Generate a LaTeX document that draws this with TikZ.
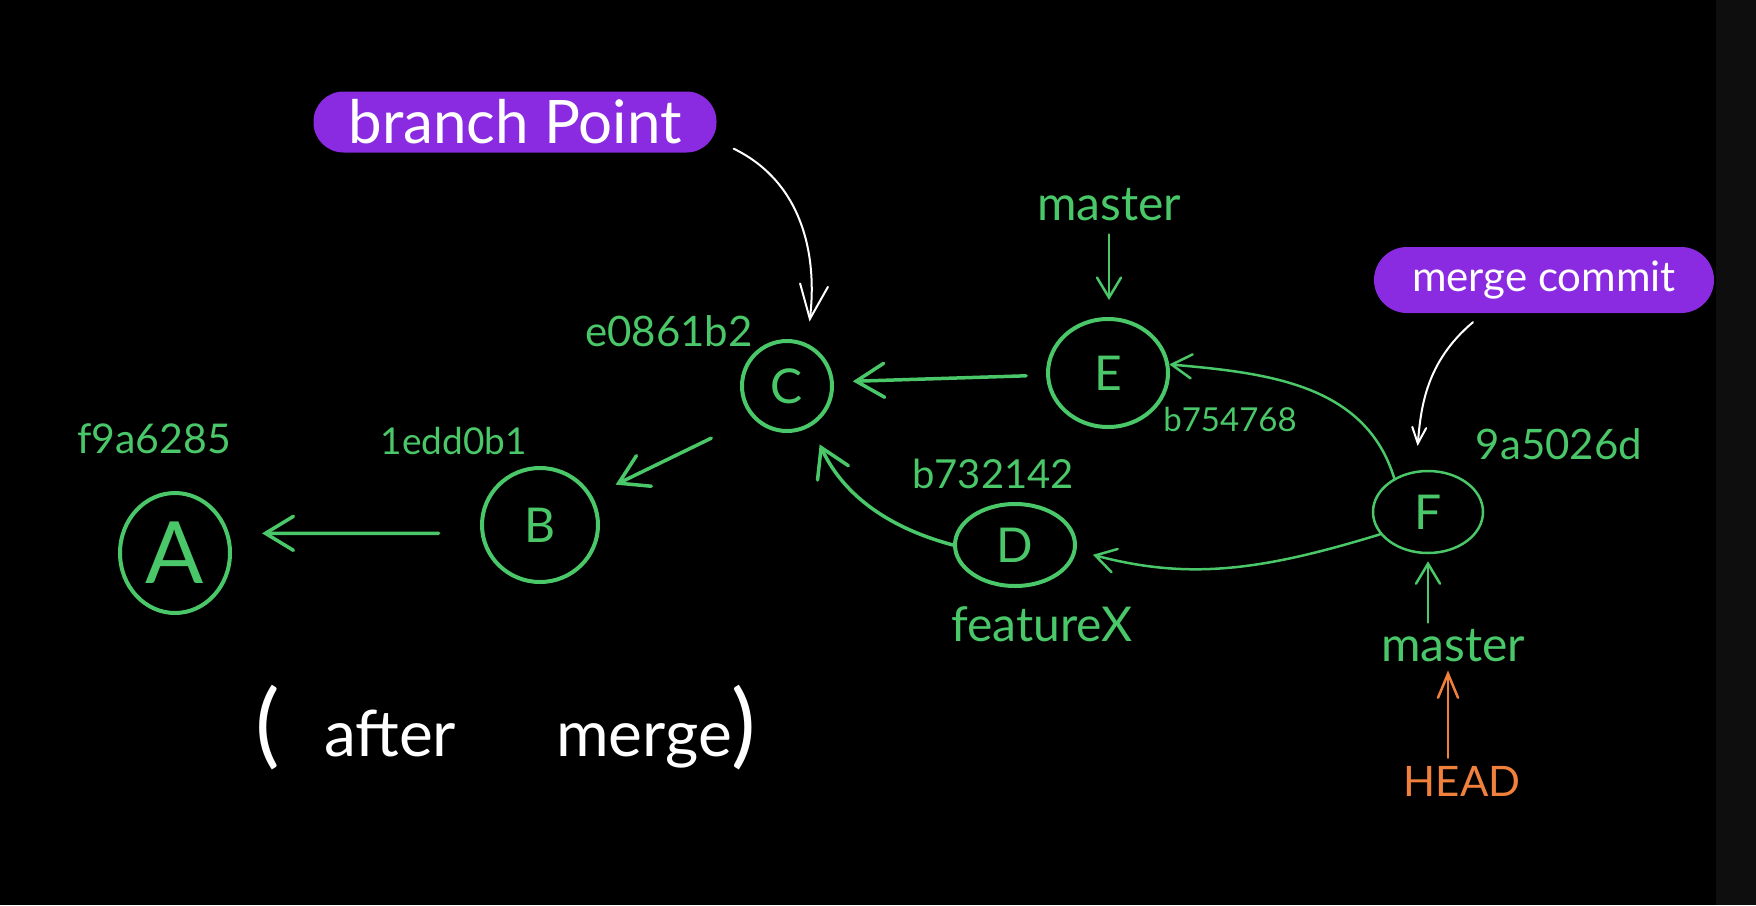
\documentclass[tikz,border=0pt]{standalone}
\usepackage{fontspec}
\setmainfont{Lato}
\usetikzlibrary{shapes.geometric,arrows.meta}
\definecolor{gr}{RGB}{74,199,104}
\definecolor{pur}{RGB}{138,43,226}
\definecolor{org}{RGB}{240,128,60}
\definecolor{stripc}{RGB}{14,14,14}
\begin{document}
\begin{tikzpicture}[x=1pt,y=-1pt,
  commit/.style={ellipse, draw=gr, line width=4pt, inner sep=0pt, text=gr, font=\fontsize{48}{48}\selectfont},
  thincommit/.style={commit, line width=2.5pt},
  hash/.style={text=gr, inner sep=0pt, font=\fontsize{#1}{#1}\selectfont},
  lbl/.style={text=gr, inner sep=0pt, font=\fontsize{#1}{#1}\selectfont},
  pill/.style={fill=pur, draw=none, text=white, inner sep=0pt},
  arr/.style={draw=gr, line width=3.5pt, line cap=round, -{Straight Barb[length=28pt,width=34pt,line cap=round]}},
  tarr/.style={draw=gr, line width=2.5pt, line cap=round, -{Straight Barb[length=20pt,width=24pt,line cap=round]}},
  warr/.style={draw=white, line width=2pt, line cap=round, -{Straight Barb[length=34pt,width=28pt,line cap=round]}},
  swarr/.style={draw=white, line width=2pt, line cap=round, -{Straight Barb[length=16pt,width=14pt,line cap=round]}},
  oarr/.style={draw=org, line width=2.5pt, line cap=round, -{Straight Barb[length=24pt,width=20pt,line cap=round]}},
]
\fill[black] (0,0) rectangle (1756,905);
\fill[stripc] (1716,0) rectangle (1756,905);
\useasboundingbox (0,0) rectangle (1756,905);

% commits
\node[commit, minimum width=110pt, minimum height=120pt, font=\fontsize{86}{86}\selectfont] (A) at (175,553) {A};
\node[commit, minimum width=116pt, minimum height=114pt] (B) at (540,525) {B};
\node[commit, minimum width=90pt, minimum height=90pt] (C) at (787,386) {C};
\node[commit, minimum width=120pt, minimum height=108pt] (E) at (1108,373) {E};
\node[commit, minimum width=120pt, minimum height=82pt] (D) at (1015,545) {D};
\node[thincommit, minimum width=110pt, minimum height=82pt] (F) at (1428,512) {F};

% hashes
\node[hash=41] (hA) at (154,439) {f9a6285};
\node[hash=37] (hB) at (454,441) {1edd0b1};
\node[hash=42] (hC) at (669,331) {e0861b2};
\node[hash=40] (hD) at (993,474) {b732142};
\node[hash=33] (hE) at (1230,419) {b754768};
\node[hash=42] (hF) at (1559,444) {9a5026d};

% branch labels
\node[lbl=48] (fx) at (1042,624) {featureX};
\node[lbl=48] (m1) at (1109,205) {master};
\node[lbl=48] (m2) at (1453,646) {master};
\node[text=org, inner sep=0pt, font=\fontsize{42}{42}\selectfont] (head) at (1462,781) {HEAD};

% note
\node[text=white, inner sep=0pt, font=\fontsize{64}{64}\selectfont] (am) at (506,728) {{\fontsize{92}{92}\selectfont(}\hspace{44pt}after\hspace{100pt}merge{\fontsize{92}{92}\selectfont)}};

% pills
\node[pill, minimum width=403pt, minimum height=61pt, rounded corners=30pt, font=\fontsize{60}{60}\selectfont] (bp) at (515,122) {branch Point};
\node[pill, minimum width=340pt, minimum height=66pt, rounded corners=33pt, font=\fontsize{42}{42}\selectfont] (mc) at (1544,280) {merge commit};

% commit arrows
\draw[arr, shorten <=42pt, shorten >=33pt] (B.188) -- (A.20);
\draw[arr, shorten <=46pt, shorten >=26pt] (C.223) -- (B.29);
\draw[arr, shorten <=20pt, shorten >=19pt] (E.182) -- (C.5);
\draw[arr, shorten >=20pt] (D.west) to[out=165, in=-65] (C.-59);
\draw[tarr] (F.135) to[out=107, in=-5] (E.8);
\draw[tarr, shorten >=17pt] (F.205) to[out=197, in=-15] (D.-5);

% pointer arrows
\draw[tarr, shorten <=13pt, shorten >=17pt] (m1.south) -- (m1.south |- E.north);
\draw[tarr, shorten <=7pt, shorten >=7pt] (m2.north -| F.south) -- (F.south);
\draw[oarr, shorten <=8pt, shorten >=8pt] ([xshift=-14pt]head.north) -- ([xshift=-5pt]m2.south);

% callout arrows
\draw[warr, shorten >=22pt] ([xshift=17pt,yshift=4pt]bp.south east) to[out=-26, in=83] (C.65);
\draw[swarr, shorten >=25pt] ([xshift=-71pt,yshift=-9pt]mc.south) to[out=220, in=85] (F.107);
\end{tikzpicture}
\end{document}
